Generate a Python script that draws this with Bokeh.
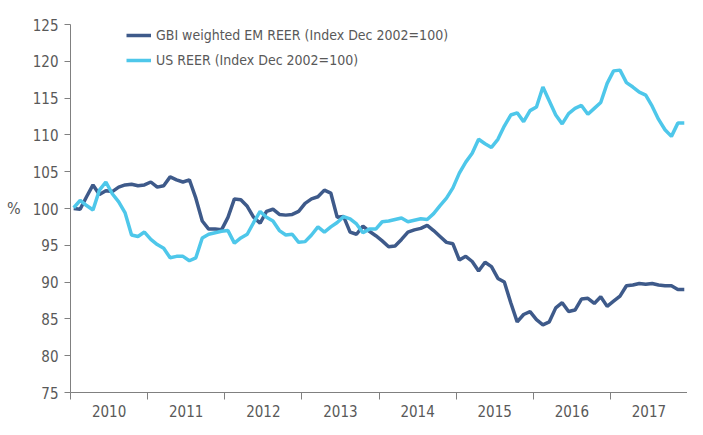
from bokeh.plotting import figure
from bokeh.models import FixedTicker, Legend, LegendItem
from bokeh.embed import file_html
from bokeh.resources import INLINE

years = [2010, 2011, 2012, 2013, 2014, 2015, 2016, 2017]

em_reer = [
    100.0, 99.9, 101.6, 103.2, 101.9, 102.4, 102.3, 102.9, 103.2, 103.3, 103.1, 103.2,
    103.6, 102.9, 103.1, 104.3, 103.9, 103.6, 103.9, 101.4, 98.3, 97.2, 97.2, 97.1,
    98.8, 101.3, 101.2, 100.3, 98.8, 98.0, 99.6, 99.9, 99.2, 99.1, 99.2, 99.6,
    100.7, 101.3, 101.6, 102.5, 102.1, 98.8, 98.9, 96.8, 96.5, 97.6, 96.9, 96.3,
    95.6, 94.8, 94.9, 95.8, 96.8, 97.1, 97.3, 97.7, 97.0, 96.2, 95.4, 95.2,
    93.0, 93.5, 92.8, 91.5, 92.7, 92.1, 90.5, 90.0, 87.2, 84.6, 85.6, 86.0,
    84.9, 84.2, 84.6, 86.5, 87.2, 86.0, 86.2, 87.7, 87.8, 87.1, 88.0, 86.7,
    87.4, 88.1, 89.5, 89.6, 89.8, 89.7, 89.8, 89.6, 89.5, 89.5, 89.0, 89.0,
]

us_reer = [
    100.1, 101.1, 100.4, 99.8, 102.5, 103.6, 102.0, 100.9, 99.4, 96.4, 96.2, 96.8,
    95.8, 95.1, 94.6, 93.3, 93.5, 93.5, 92.9, 93.3, 96.0, 96.5, 96.7, 96.9,
    97.0, 95.3, 96.0, 96.5, 98.1, 99.6, 98.8, 98.3, 97.0, 96.4, 96.5, 95.4,
    95.5, 96.4, 97.5, 96.8, 97.5, 98.1, 98.9, 98.6, 97.9, 96.7, 97.2, 97.2,
    98.2, 98.3, 98.5, 98.7, 98.2, 98.4, 98.6, 98.5, 99.3, 100.4, 101.4, 102.8,
    104.8, 106.3, 107.5, 109.4, 108.8, 108.3, 109.4, 111.2, 112.7, 113.0, 111.8, 113.3,
    113.8, 116.5, 114.6, 112.7, 111.5, 112.9, 113.6, 114.0, 112.8, 113.6, 114.4, 117.0,
    118.7, 118.8, 117.1, 116.5, 115.8, 115.4, 113.9, 112.1, 110.7, 109.8, 111.6, 111.6,
]

y_ticks = [75, 80, 85, 90, 95, 100, 105, 110, 115, 120, 125]

em_label = "GBI weighted EM REER (Index Dec 2002=100)"
us_label = "US REER (Index Dec 2002=100)"

# monthly positions in decimal years (mid-month)
t = [years[0] + (i + 0.5) / 12 for i in range(len(em_reer))]

FONT = "DejaVu Sans Condensed"
TXT = "#595959"
AX = "#808080"

p = figure(width=687, height=419, x_range=(2010, 2018), y_range=(75, 125),
           output_backend="svg", toolbar_location=None,
           min_border_left=70, min_border_right=0, min_border_top=24, min_border_bottom=23)
p.outline_line_color = None
p.xgrid.grid_line_color = None
p.ygrid.grid_line_color = None

r_em = p.line(t, em_reer, line_color="#3E5A8A", line_width=3.5)
r_us = p.line(t, us_reer, line_color="#4EC7EA", line_width=3.5)

# y axis
ya = p.yaxis[0]
ya.ticker = FixedTicker(ticks=y_ticks)
ya.major_tick_out = 6
ya.major_tick_in = 0
ya.minor_tick_line_color = None
ya.axis_line_color = AX
ya.major_tick_line_color = AX
ya.major_label_text_color = TXT
ya.major_label_text_font = FONT
ya.major_label_text_font_size = "15px"
ya.major_label_standoff = 6
ya.axis_label = "%"
ya.axis_label_orientation = "horizontal"
ya.axis_label_text_font = FONT
ya.axis_label_text_font_style = "normal"
ya.axis_label_text_font_size = "16px"
ya.axis_label_text_color = TXT
ya.axis_label_standoff = 9

# x axis: year labels centred between year boundary ticks
xa = p.xaxis[0]
mids = [y + 0.5 for y in years]
xa.ticker = FixedTicker(ticks=mids, minor_ticks=years + [years[-1] + 1])
xa.major_label_overrides = {m: str(y) for m, y in zip(mids, years)}
xa.major_tick_line_color = None
xa.major_tick_out = 0
xa.major_tick_in = 0
xa.minor_tick_out = 7
xa.minor_tick_in = 0
xa.minor_tick_line_color = AX
xa.axis_line_color = AX
xa.major_label_text_color = TXT
xa.major_label_text_font = FONT
xa.major_label_text_font_style = "normal"
xa.major_label_text_font_size = "15px"
xa.major_label_standoff = 5

legend = Legend(items=[LegendItem(label=em_label, renderers=[r_em]),
                       LegendItem(label=us_label, renderers=[r_us])],
                location=(56, 322), margin=0, padding=0, spacing=5,
                label_height=20, glyph_height=20, glyph_width=25, label_standoff=5,
                label_text_font=FONT, label_text_font_size="14px", label_text_color=TXT,
                background_fill_alpha=0, border_line_color=None)
p.add_layout(legend, "center")

open("out.html", "w").write(file_html(p, INLINE))
